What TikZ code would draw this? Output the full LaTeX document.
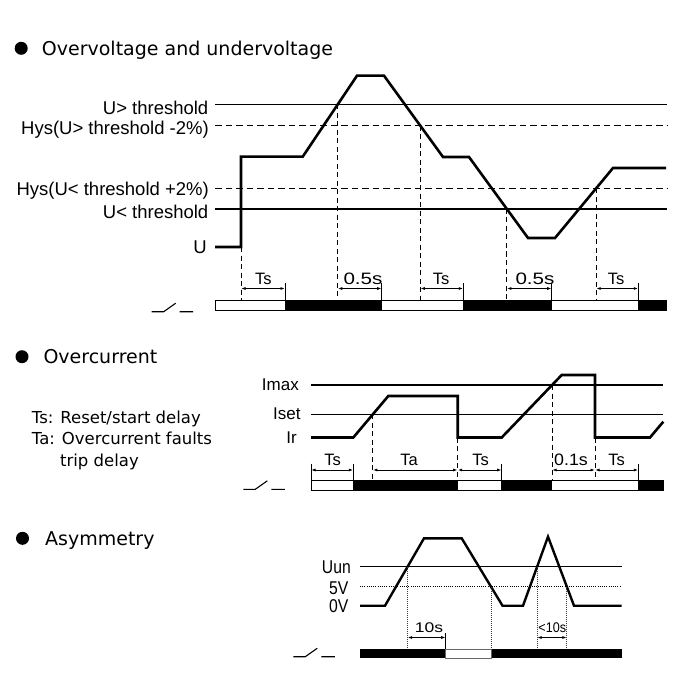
\documentclass[tikz,border=0pt]{standalone}
\usepackage{fontspec}
\setmainfont{Liberation Sans}
\newfontfamily\ttlfont{DejaVu Sans}
\usetikzlibrary{arrows.meta,calc}
\tikzset{
 sig/.style={line width=2.6pt, line join=miter},
 thr/.style={line width=1.1pt},
 hys/.style={line width=1.1pt, dash pattern=on 6.5pt off 4pt},
 vdash/.style={line width=1pt, dash pattern=on 5pt off 3.5pt},
 vdot/.style={line width=0.7pt, black!75, dash pattern=on 0.8pt off 1.2pt},
 hdot/.style={line width=0.9pt, dash pattern=on 1pt off 1.2pt},
 dimline/.style={line width=0.9pt, {Latex[length=4.5pt,width=3pt]}-{Latex[length=4.5pt,width=3pt]}},
 dimtick/.style={line width=1pt},
 onseg/.style={fill=black, draw=black, line width=0.6pt},
 offseg/.style={fill=white, draw=black, line width=1pt},
 lbl/.style={font=\fontsize{18.5}{20}\selectfont, inner sep=0pt, anchor=base east},
 ilbl/.style={font=\fontsize{17}{19}\selectfont, inner sep=0pt, anchor=base east},
 dlbl/.style={font=\fontsize{16.5}{18}\selectfont, inner sep=0pt, anchor=base},
 slbl/.style={font=\fontsize{14}{16}\selectfont, inner sep=0pt, anchor=base},
 ttl/.style={font=\ttlfont\fontsize{19}{22}\selectfont, inner sep=0pt, anchor=base west},
 lgd/.style={font=\ttlfont\fontsize{16.5}{19}\selectfont, inner sep=0pt, anchor=base west},
 blt/.style={circle, fill=black, inner sep=0pt, minimum size=13pt},
 noswitch/.pic={\draw[line width=1.1pt] (0,0) -- (12,0) -- (24,-8.5) (28,0) -- (41.5,0);},
}
\begin{document}
\begin{tikzpicture}[x=1pt,y=-1pt]
\path[use as bounding box] (0,0) rectangle (700,700);

%================ Overvoltage and undervoltage ================
\node[blt] (b1) at (21.2,48.3) {};
\node[ttl] (t1) at (41.7,56) {Overvoltage and undervoltage};

\draw[thr] (215,104.3) -- (667,104.3);
\draw[hys] (215,125.7) -- (667,125.7);
\draw[hys] (215,188.3) -- (667,188.3);
\draw[thr] (215,209) -- (667,209);

\node[lbl] (lu1) at (208.5,115) {U> threshold};
\node[lbl] (lu2) at (209,135) {Hys(U> threshold -2\%)};
\node[lbl] (lu3) at (209,196) {Hys(U< threshold +2\%)};
\node[lbl] (lu4) at (208.5,218.3) {U< threshold};
\node[lbl] (lu5) at (207,254) {U};

\coordinate (p0) at (215,247);
\coordinate (p1) at (241,247);
\coordinate (p2) at (241,156.7);
\coordinate (p3) at (302.7,156.7);
\coordinate (p4) at (357,75.7);
\coordinate (p5) at (384,75.7);
\coordinate (p6) at (443,157);
\coordinate (p7) at (469,157);
\coordinate (p8) at (528,238);
\coordinate (p9) at (555,238);
\coordinate (p10) at (613,168);
\coordinate (p11) at (666,168);
\draw[sig] (p0) -- (p1) -- (p2) -- (p3) -- (p4) -- (p5) -- (p6) -- (p7) -- (p8) -- (p9) -- (p10) -- (p11);

\coordinate (c1) at (337.8,104.3);
\coordinate (c2) at (420.3,125.7);
\coordinate (c3) at (506.9,209);
\coordinate (c4) at (596.2,188.3);
\coordinate (bt1) at (0,300.7);
\coordinate (ay1) at (0,288.5);
\coordinate (ty1) at (0,283);
\draw[vdash] (p1) -- (p1 |- bt1);
\draw[vdash] (c1) -- (c1 |- bt1);
\draw[vdash] (c2) -- (c2 |- bt1);
\draw[vdash] (c3) -- (c3 |- bt1);
\draw[vdash] (c4) -- (c4 |- bt1);

\draw[offseg] (215,300.7) rectangle (285,310.7);
\draw[offseg] (381.7,300.7) rectangle (463.3,310.7);
\draw[offseg] (551.7,300.7) rectangle (638.3,310.7);
\draw[onseg] (285,300.7) rectangle (381.7,310.7);
\draw[onseg] (463.3,300.7) rectangle (551.7,310.7);
\draw[onseg] (638.3,300.7) rectangle (666.7,310.7);

\coordinate (e1) at (285,288.5);
\coordinate (e2) at (381.7,288.5);
\coordinate (e3) at (463.3,288.5);
\coordinate (e4) at (551.7,288.5);
\coordinate (e5) at (638.3,288.5);
\foreach \e in {e1,e2,e3,e4,e5} {\draw[dimtick] (\e |- ty1) -- (\e |- bt1);}
\draw[dimline] (p1 |- ay1) -- (e1);
\draw[dimline] (c1 |- ay1) -- (e2);
\draw[dimline] (c2 |- ay1) -- (e3);
\draw[dimline] (c3 |- ay1) -- (e4);
\draw[dimline] (c4 |- ay1) -- (e5);
\node[dlbl] (d1) at (263.3,284.5) {Ts};
\node[dlbl] (d2) at (363,284.5) {\scalebox{1.25}[1]{0.5s}};
\node[dlbl] (d3) at (441,284.5) {Ts};
\node[dlbl] (d4) at (535,284.5) {\scalebox{1.25}[1]{0.5s}};
\node[dlbl] (d5) at (616,284.5) {Ts};

\pic (sw1) at (151.7,311.7) {noswitch};

%================ Overcurrent ================
\node[blt] (b2) at (22,356.7) {};
\node[ttl] (t2) at (43.3,363.3) {Overcurrent};
\node[lgd] (g1) at (31.7,423.3) {Ts: Reset/start delay};
\node[lgd] (g2) at (31.7,444.3) {Ta: Overcurrent faults};
\node[lgd] (g3) at (31.7,466.7) {\phantom{Ta:\ }trip delay};

\draw[thr] (311,385) -- (663,385);
\draw[thr] (311,414.3) -- (663,414.3);
\node[ilbl] (li1) at (299,390.7) {Imax};
\node[ilbl] (li2) at (300.7,419.3) {Iset};
\node[ilbl] (li3) at (297,443.3) {Ir};

\coordinate (q0) at (311,437.5);
\coordinate (q1) at (353.3,437.5);
\coordinate (q2) at (388.3,396);
\coordinate (q3) at (457.7,396);
\coordinate (q4) at (457.7,437.5);
\coordinate (q5) at (501.7,437.5);
\coordinate (q6) at (561.7,375);
\coordinate (q7) at (595,375);
\coordinate (q8) at (595,437.5);
\coordinate (q9) at (650,437.5);
\coordinate (q10) at (663.3,421.7);
\draw[sig] (q0) -- (q1) -- (q2) -- (q3) -- (q4) -- (q5) -- (q6) -- (q7) -- (q8) -- (q9) -- (q10);

\coordinate (m1) at (372.9,414.3);
\coordinate (m2) at (552.1,385);
\coordinate (bt2) at (0,480.5);
\coordinate (ay2) at (0,470);
\coordinate (ty2) at (0,463.5);
\draw[vdash] (m1) -- (m1 |- bt2);
\draw[vdash] (q4) -- (q4 |- bt2);
\draw[vdash] (m2) -- (m2 |- bt2);
\draw[vdash] (q8) -- (q8 |- bt2);

\draw[offseg] (311,480.5) rectangle (353.3,490.7);
\draw[offseg] (457.7,480.5) rectangle (501.7,490.7);
\draw[offseg] (551.7,480.5) rectangle (638.3,490.7);
\draw[onseg] (353.3,480.5) rectangle (457.7,490.7);
\draw[onseg] (501.7,480.5) rectangle (551.7,490.7);
\draw[onseg] (638.3,480.5) rectangle (663.3,490.7);

\coordinate (f0) at (311,470);
\coordinate (f1) at (353.3,470);
\coordinate (f2) at (501.7,470);
\coordinate (f3) at (638.3,470);
\foreach \e in {f0,f1,f2,f3} {\draw[dimtick] (\e |- ty2) -- (\e |- bt2);}
\draw[dimline] (f0) -- (f1);
\draw[dimline] (m1 |- ay2) -- (q4 |- ay2);
\draw[dimline] (q4 |- ay2) -- (f2);
\draw[dimline] (m2 |- ay2) -- (q8 |- ay2);
\draw[dimline] (q8 |- ay2) -- (f3);
\node[dlbl] (h1) at (332.5,465) {Ts};
\node[dlbl] (h2) at (409,465) {Ta};
\node[dlbl] (h3) at (480.5,465) {Ts};
\node[dlbl] (h4) at (571,465) {\scalebox{1.08}[1]{0.1s}};
\node[dlbl] (h5) at (616.7,465) {Ts};

\pic (sw2) at (243.3,489.3) {noswitch};

%================ Asymmetry ================
\node[blt] (b3) at (22.5,538.3) {};
\node[ttl] (t3) at (45,545) {Asymmetry};

\draw[thr] (360,566.7) -- (621.7,566.7);
\draw[hdot] (360,586.7) -- (621.7,586.7);
\node[lbl] (la1) at (351,573.3) {\scalebox{0.85}[1]{Uun}};
\node[lbl] (la2) at (348.5,594) {\scalebox{0.85}[1]{5V}};
\node[lbl] (la3) at (348.5,612.7) {\scalebox{0.85}[1]{0V}};

\coordinate (r0) at (360,605.7);
\coordinate (r1) at (385,605.7);
\coordinate (r2) at (424,538.3);
\coordinate (r3) at (461.7,538.3);
\coordinate (r4) at (502.5,605.7);
\coordinate (r5) at (523,605.7);
\coordinate (r6) at (548,536.7);
\coordinate (r7) at (574,605.7);
\coordinate (r8) at (621.7,605.7);
\draw[sig, line width=2.4pt] (r0) -- (r1) -- (r2) -- (r3) -- (r4) -- (r5) -- (r6) -- (r7) -- (r8);

\coordinate (a1) at (407.6,566.7);
\coordinate (a2) at (491,586.7);
\coordinate (a3) at (537.1,566.7);
\coordinate (a4) at (566.8,586.7);
\coordinate (bt3) at (0,649.3);
\coordinate (ay3) at (0,637.5);
\coordinate (ty3) at (0,633);
\draw[vdot] (a1) -- (a1 |- bt3);
\draw[vdot] (a2) -- (a2 |- bt3);
\draw[vdot] (a3) -- (a3 |- bt3);
\draw[vdot] (a4) -- (a4 |- bt3);

\draw[onseg] (360,649.3) rectangle (445.7,657.3);
\draw[onseg] (491,649.3) rectangle (621.7,657.3);
\draw[fill=white, draw=black!60, line width=1pt] (445.7,649.3) rectangle (491,658.3);

\coordinate (g4) at (445.7,637.5);
\draw[dimtick] (g4 |- ty3) -- (g4 |- bt3);
\draw[dimline] (a1 |- ay3) -- (g4);
\draw[dimline] (a3 |- ay3) -- (a4 |- ay3);
\node[slbl] (k1) at (429,632) {\scalebox{1.25}[1]{10s}};
\node[slbl] (k2) at (552.3,632) {\scalebox{0.9}[1]{<10s}};

\pic (sw3) at (293.3,656.7) {noswitch};
\end{tikzpicture}
\end{document}
